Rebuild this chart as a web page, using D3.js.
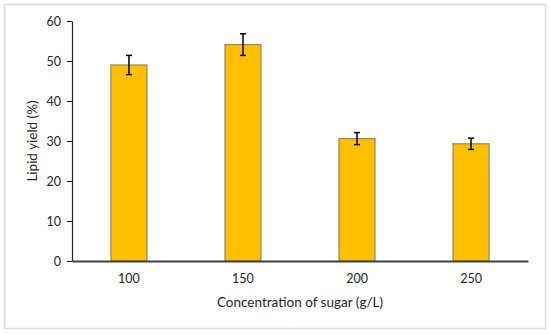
<!DOCTYPE html>
<html>
<head>
<meta charset="utf-8">
<script src="https://cdn.jsdelivr.net/npm/d3@7"></script>
<style>
  body { margin: 0; background: #fff; }
  svg text { font-family: Lato, "Open Sans", sans-serif; fill: #262626; }
</style>
</head>
<body>
<div id="chart"></div>
<script>
var categories = ["100", "150", "200", "250"];
var yieldValues = [49.0, 54.1, 30.6, 29.3];
var yieldErrors = [2.4, 2.7, 1.5, 1.4];
var yTicks = [0, 10, 20, 30, 40, 50, 60];

var W = 550, H = 334;
var margin = { top: 21, right: 22, bottom: 73, left: 72 };
var w = W - margin.left - margin.right;
var h = H - margin.top - margin.bottom;

var svg = d3.select("#chart").append("svg")
    .attr("width", W)
    .attr("height", H);

// outer frame
svg.append("rect")
    .attr("x", 4.5).attr("y", 4.5)
    .attr("width", 541).attr("height", 324)
    .attr("fill", "#fff")
    .attr("stroke", "#d9d9d9")
    .attr("stroke-width", 1.5);

var g = svg.append("g")
    .attr("transform", `translate(${margin.left},${margin.top})`);

var scaleX = d3.scaleBand().domain(categories).range([0, w]).paddingInner(0.685).paddingOuter(0.342);
var scaleY = d3.scaleLinear().domain([0, 60]).range([h, 0]);

var yAxis = d3.axisLeft(scaleY).tickValues(yTicks).tickSize(5).tickPadding(6).tickSizeOuter(0);
var yAxisGroup = g.append("g").attr("class", "_y").call(yAxis);
yAxisGroup.select(".domain").attr("stroke", "#262626").attr("stroke-width", 1.2);
yAxisGroup.selectAll(".tick line").attr("stroke", "#262626").attr("stroke-width", 1.2);
yAxisGroup.selectAll("text").style("font-size", "12.5px").attr("fill", "#262626");

var xAxis = d3.axisBottom(scaleX).tickSize(0).tickPadding(13).tickSizeOuter(0);
var xAxisGroup = g.append("g").attr("class", "_x")
    .attr("transform", `translate(0,${h})`)
    .call(xAxis);
xAxisGroup.selectAll("text").style("font-size", "12.5px").attr("fill", "#262626");

var data = categories.map((c, i) => ({ name: c, value: yieldValues[i], err: yieldErrors[i] }));

g.selectAll("rect.bar")
    .data(data)
    .enter()
    .append("rect")
    .attr("class", "bar")
    .attr("x", d => scaleX(d.name))
    .attr("y", d => scaleY(d.value))
    .attr("width", scaleX.bandwidth())
    .attr("height", d => h - scaleY(d.value))
    .attr("fill", "#ffc000")
    .attr("stroke", "#9c8b62")
    .attr("stroke-width", 1.3);

// x axis line drawn over the bars
xAxisGroup.raise();
xAxisGroup.select(".domain").attr("stroke", "#404040").attr("stroke-width", 2);

// error bars
var errG = g.selectAll("g.err")
    .data(data)
    .enter()
    .append("g")
    .attr("class", "err")
    .attr("transform", d => `translate(${scaleX(d.name) + scaleX.bandwidth() / 2},0)`);
errG.append("line")
    .attr("y1", d => scaleY(d.value + d.err))
    .attr("y2", d => scaleY(d.value - d.err))
    .attr("stroke", "#000").attr("stroke-width", 1.5);
errG.append("line")
    .attr("x1", -3).attr("x2", 3)
    .attr("y1", d => scaleY(d.value + d.err))
    .attr("y2", d => scaleY(d.value + d.err))
    .attr("stroke", "#000").attr("stroke-width", 1.5);
errG.append("line")
    .attr("x1", -3).attr("x2", 3)
    .attr("y1", d => scaleY(d.value - d.err))
    .attr("y2", d => scaleY(d.value - d.err))
    .attr("stroke", "#000").attr("stroke-width", 1.5);

// axis titles
svg.append("text")
    .attr("x", 300)
    .attr("y", 307)
    .attr("text-anchor", "middle")
    .style("font-size", "13.5px")
    .text("Concentration of sugar (g/L)");

svg.append("text")
    .attr("transform", `translate(37,${margin.top + h / 2}) rotate(-90)`)
    .attr("text-anchor", "middle")
    .style("font-size", "13.5px")
    .text("Lipid yield (%)");
</script>
</body>
</html>
